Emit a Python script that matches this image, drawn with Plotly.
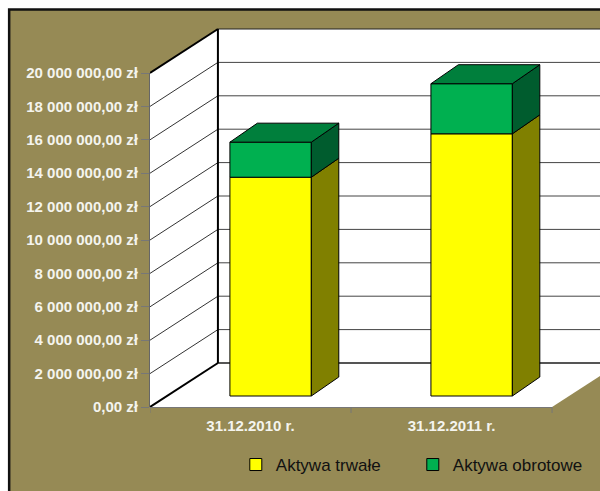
import plotly.graph_objects as go

categories = ["31.12.2010 r.", "31.12.2011 r."]
aktywa_trwale = [13_100_000, 15_700_000]
aktywa_obrotowe = [2_100_000, 3_000_000]
y_ticks = [0, 2e6, 4e6, 6e6, 8e6, 10e6, 12e6, 14e6, 16e6, 18e6, 20e6]
y_labels = ["0,00 zł", "2 000 000,00 zł", "4 000 000,00 zł", "6 000 000,00 zł", "8 000 000,00 zł",
            "10 000 000,00 zł", "12 000 000,00 zł", "14 000 000,00 zł", "16 000 000,00 zł",
            "18 000 000,00 zł", "20 000 000,00 zł"]

W, H = 600, 491
X0_PX, X1_PX, Y0_PX, Y20_PX = 149.5, 552.0, 407.0, 73.0
PW = W - X0_PX
U = (X1_PX - X0_PX) / 2           # px per category
V = (Y0_PX - Y20_PX) / 20e6       # px per value unit
x_range = [-0.5, -0.5 + PW / U]
y_range = [0, Y0_PX / V]
DX, DY = 68 / U, 44 / V           # wall depth
BAR_SHIFT, BAR_BASE, BAR_W = 0.1, 11 / V, 0.405
BDX, BDY = 27.5 / U, 19 / V       # bar depth

OLIVE = "#968a55"
xpos = [i + BAR_SHIFT for i in range(len(categories))]
top_ = y_ticks[-1]
far = x_range[1] + 0.3

shapes = [
    dict(type="rect", xref="paper", yref="paper", x0=(8.5 - X0_PX) / PW, x1=1.05, y0=-20 / Y0_PX - (H - Y0_PX) / Y0_PX,
         y1=1 - 9.5 / Y0_PX, fillcolor=OLIVE, line=dict(color="#111111", width=2.5)),
    dict(type="path", xref="x", yref="y",
         path=f"M-0.5,0 L{-0.5+DX},{DY} L{-0.5+DX},{top_+DY} L-0.5,{top_} Z", fillcolor="white", line=dict(width=0)),
    dict(type="path", xref="x", yref="y",
         path=f"M{-0.5+DX},{DY} L{far},{DY} L{far},{top_+DY} L{-0.5+DX},{top_+DY} Z", fillcolor="white", line=dict(width=0)),
    dict(type="path", xref="x", yref="y",
         path=f"M-0.5,0 L1.5,0 L{1.5+DX},{DY} L{-0.5+DX},{DY} Z", fillcolor="white", line=dict(width=0)),
]
for t in y_ticks[1:-1]:
    shapes.append(dict(type="line", xref="x", yref="y", x0=-0.5, y0=t, x1=-0.5 + DX, y1=t + DY,
                       line=dict(color="#333333", width=1)))
    shapes.append(dict(type="line", xref="x", yref="y", x0=-0.5 + DX, y0=t + DY, x1=far, y1=t + DY,
                       line=dict(color="#444444", width=1)))
shapes += [
    dict(type="line", xref="x", yref="y", x0=-0.5 + DX, y0=top_ + DY, x1=far, y1=top_ + DY, line=dict(color="#222222", width=1)),
    dict(type="line", xref="x", yref="y", x0=-0.5 + DX, y0=DY, x1=far, y1=DY, line=dict(color="#555555", width=2)),
    dict(type="line", xref="x", yref="y", x0=-0.5, y0=top_, x1=-0.5 + DX, y1=top_ + DY, line=dict(color="#000000", width=2)),
    dict(type="line", xref="x", yref="y", x0=-0.5, y0=0, x1=-0.5 + DX, y1=DY, line=dict(color="#000000", width=2)),
    dict(type="line", xref="x", yref="y", x0=-0.5 + DX, y0=DY, x1=-0.5 + DX, y1=top_ + DY, line=dict(color="#000000", width=2)),
    dict(type="line", xref="paper", yref="y", x0=0, y0=0, x1=0, y1=top_, line=dict(color="#666666", width=2)),
    dict(type="line", xref="x", yref="paper", x0=-0.5, y0=0, x1=1.5, y1=0, line=dict(color="#777777", width=2)),
]
for t in (-0.5, 0.5, 1.5):
    shapes.append(dict(type="line", xref="x", yref="paper", x0=t, x1=t, y0=0, y1=-6 / Y0_PX,
                       line=dict(color="#777777", width=1)))
for s in shapes:
    s["layer"] = "below"

fig = go.Figure()
fig.add_bar(x=xpos, y=aktywa_trwale, base=[BAR_BASE] * 2, width=BAR_W, name="Aktywa trwałe",
            marker=dict(color="#ffff00", line=dict(color="#000000", width=1)), hoverinfo="skip")
fig.add_bar(x=xpos, y=aktywa_obrotowe, base=[BAR_BASE + v for v in aktywa_trwale], width=BAR_W, name="Aktywa obrotowe",
            marker=dict(color="#00b050", line=dict(color="#000000", width=1)), hoverinfo="skip")


def poly(xs, ys, color):
    fig.add_scatter(x=xs + xs[:1], y=ys + ys[:1], mode="lines", fill="toself", fillcolor=color,
                    line=dict(color="#000000", width=1), showlegend=False, hoverinfo="skip")


for x, a, b in zip(xpos, aktywa_trwale, aktywa_obrotowe):
    r = x + BAR_W / 2
    l = x - BAR_W / 2
    y0, y1, y2 = BAR_BASE, BAR_BASE + a, BAR_BASE + a + b
    poly([r, r + BDX, r + BDX, r], [y0, y0 + BDY, y1 + BDY, y1], "#808000")
    poly([r, r + BDX, r + BDX, r], [y1, y1 + BDY, y2 + BDY, y2], "#005c2e")
    poly([l, r, r + BDX, l + BDX], [y2, y2, y2 + BDY, y2 + BDY], "#007f3c")

tick_font = dict(family="Liberation Sans", size=15, color="#f4f4ee", weight="bold")
fig.update_layout(
    width=W, height=H, autosize=False, margin=dict(l=X0_PX, r=0, t=0, b=H - Y0_PX, pad=0),
    paper_bgcolor="white", plot_bgcolor="rgba(0,0,0,0)", barmode="overlay", shapes=shapes,
    font=dict(family="Liberation Sans"),
    xaxis=dict(range=x_range, showgrid=False, zeroline=False, automargin=False,
               showline=False, tickmode="array", tickvals=[0, 1], ticktext=categories, tickfont=tick_font,
               ticks="outside", ticklen=5, tickcolor="rgba(0,0,0,0)"),
    yaxis=dict(range=y_range, showgrid=False, zeroline=False, automargin=False,
               showline=False, tickmode="array", tickvals=y_ticks, ticktext=y_labels, tickfont=tick_font,
               ticks="outside", ticklen=8, tickcolor="#777777", tickwidth=1),
    legend=dict(orientation="h", xref="container", yref="container", x=0.393, y=0.053, xanchor="left", yanchor="middle",
                bgcolor="rgba(0,0,0,0)",
                font=dict(family="Liberation Sans", size=17, color="#111111"), entrywidth=132, entrywidthmode="pixels",
                itemclick=False, itemdoubleclick=False),
    showlegend=True,
)
fig.write_html("out.html", config=dict(displayModeBar=False), post_script="document.body.style.margin='0';")
